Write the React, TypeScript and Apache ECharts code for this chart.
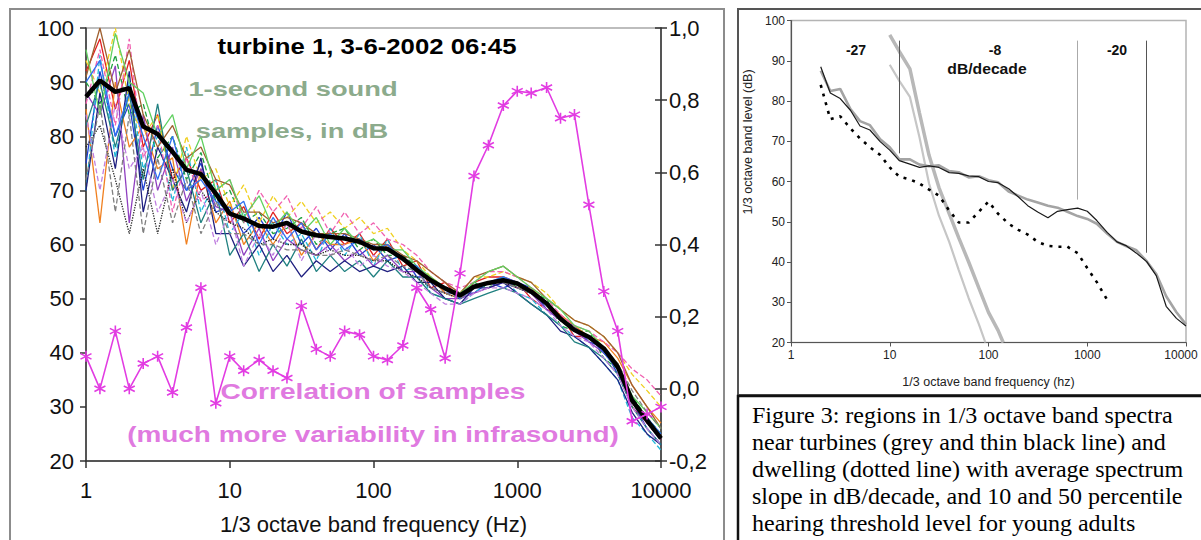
import React, { useEffect, useRef } from "react";
import * as echarts from "echarts";

// ---------- Left chart data ----------
const freqs = [1, 1.25, 1.6, 2, 2.5, 3.15, 4, 5, 6.3, 8, 10, 12.5, 16, 20, 25, 31.5, 40, 50, 63, 80, 100, 125, 160, 200, 250, 315, 400, 500, 630, 800, 1000, 1250, 1600, 2000, 2500, 3150, 4000, 5000, 6300, 8000, 10000];

const meanLevel = [87.3, 90.3, 88.2, 88.9, 81.8, 80.4, 77.1, 73.8, 73.0, 69.4, 65.7, 64.8, 63.4, 63.3, 64.0, 62.4, 61.7, 61.4, 61.1, 60.5, 59.3, 59.2, 57.4, 55.3, 53.4, 51.9, 50.6, 52.2, 52.9, 53.4, 52.8, 51.3, 49.1, 46.3, 44.2, 42.9, 40.8, 37.4, 31.2, 27.5, 24.2];

const correlation = [0.09, 0.0, 0.16, 0.0, 0.07, 0.09, -0.01, 0.17, 0.28, -0.04, 0.09, 0.05, 0.08, 0.05, 0.03, 0.23, 0.11, 0.09, 0.16, 0.15, 0.09, 0.08, 0.12, 0.28, 0.22, 0.085, 0.32, 0.59, 0.675, 0.785, 0.825, 0.82, 0.835, 0.75, 0.76, 0.51, 0.27, 0.16, -0.09, -0.07, -0.05];

const sample01 = [92, 98, 85, 94, 78, 84, 72, 76, 70, 72, 64, 67, 61, 66, 62, 64, 59, 63, 60, 62, 58, 61, 56, 57, 52, 53, 50, 53, 54, 54, 53, 50, 48, 47, 43, 43, 40, 38, 30, 27, 24];
const sample02 = [75, 92, 80, 86, 70, 82, 74, 70, 75, 66, 67, 62, 65, 61, 66, 60, 63, 59, 62, 58, 60, 57, 58, 54, 54, 51, 51, 51, 53, 52, 53, 52, 48, 46, 45, 42, 41, 36, 31, 26, 23];
const sample03 = [90, 86, 95, 84, 86, 76, 80, 72, 77, 68, 70, 64, 66, 62, 63, 65, 60, 62, 63, 59, 61, 58, 58, 56, 53, 52, 50, 53, 52, 54, 52, 51, 50, 45, 44, 44, 39, 37, 32, 28, 25];
const sample04 = [85, 64, 90, 78, 82, 74, 76, 60, 74, 64, 68, 60, 64, 60, 64, 58, 62, 60, 60, 61, 57, 60, 57, 55, 54, 51, 50, 52, 53, 53, 52, 52, 49, 47, 45, 43, 42, 39, 34, 30, 27];
const sample05 = [70, 95, 76, 90, 74, 80, 68, 78, 66, 72, 62, 66, 58, 64, 60, 62, 57, 63, 58, 62, 56, 61, 55, 56, 51, 50, 49, 51, 53, 54, 51, 50, 47, 45, 43, 41, 38, 35, 28, 25, 22];
const sample06 = [88, 84, 93, 64, 84, 70, 78, 68, 74, 67, 66, 58, 63, 57, 61, 59, 58, 60, 57, 59, 56, 58, 55, 55, 52, 50, 50, 51, 52, 53, 52, 51, 48, 46, 44, 42, 40, 37, 31, 27, 24];
const sample07 = [94, 88, 100, 86, 80, 84, 70, 80, 72, 74, 67, 71, 64, 69, 65, 68, 64, 66, 63, 65, 62, 63, 59, 57, 54, 52, 51, 54, 54, 55, 54, 53, 51, 48, 46, 45, 43, 40, 36, 33, 30];
const sample08 = [70, 88, 74, 92, 66, 78, 72, 66, 76, 62, 62, 56, 60, 55, 58, 54, 57, 55, 57, 55, 56, 55, 56, 53, 53, 50, 49, 52, 52, 53, 51, 49, 47, 44, 43, 41, 38, 35, 29, 25, 23];
const sample09 = [86, 96, 82, 98, 76, 82, 66, 76, 68, 70, 72, 64, 70, 66, 69, 63, 67, 62, 66, 62, 64, 61, 60, 58, 55, 53, 52, 53, 55, 55, 54, 52, 50, 47, 45, 44, 42, 40, 37, 35, 32];
const sample10 = [82, 90, 78, 88, 72, 86, 70, 74, 64, 70, 58, 62, 55, 60, 56, 61, 55, 58, 55, 57, 54, 57, 54, 54, 51, 50, 49, 50, 51, 52, 51, 49, 47, 45, 42, 41, 39, 36, 30, 26, 23];
const sample11 = [78, 82, 72, 62, 74, 62, 74, 64, 70, 66, 64, 63, 60, 61, 60, 60, 58, 59, 58, 58, 57, 57, 55, 54, 52, 51, 50, 52, 53, 53, 52, 51, 49, 46, 44, 43, 40, 37, 31, 27, 24];
const sample12 = [91, 100, 88, 96, 84, 78, 82, 76, 78, 72, 71, 66, 66, 64, 65, 64, 62, 62, 62, 61, 60, 60, 58, 57, 55, 53, 51, 54, 55, 56, 54, 53, 50, 48, 46, 45, 43, 40, 34, 30, 26];
const sample13 = [96, 84, 99, 90, 88, 80, 84, 74, 80, 70, 72, 65, 69, 63, 66, 62, 65, 60, 63, 60, 61, 59, 59, 56, 54, 52, 51, 53, 55, 56, 54, 52, 50, 48, 45, 44, 41, 38, 32, 29, 26];
const sample14 = [84, 70, 86, 74, 78, 66, 72, 64, 70, 60, 66, 56, 62, 58, 64, 57, 62, 58, 60, 56, 58, 56, 55, 53, 51, 49, 49, 51, 52, 52, 51, 50, 48, 45, 43, 42, 39, 36, 30, 26, 23];
const sample15 = [90, 94, 80, 88, 80, 72, 80, 70, 72, 68, 66, 68, 60, 65, 61, 64, 59, 62, 59, 61, 59, 60, 57, 56, 53, 52, 50, 52, 53, 54, 53, 51, 49, 46, 44, 43, 40, 37, 31, 28, 25];
const sample16 = [72, 86, 66, 84, 62, 76, 64, 72, 62, 68, 62, 62, 60, 60, 59, 59, 58, 58, 59, 58, 57, 58, 56, 55, 52, 51, 50, 52, 53, 53, 52, 51, 49, 46, 44, 43, 41, 38, 33, 29, 26];

const samples = [sample01, sample02, sample03, sample04, sample05, sample06, sample07, sample08, sample09, sample10, sample11, sample12, sample13, sample14, sample15, sample16];
const sampleColors = ["#e02020", "#1f3fd0", "#20a040", "#f08020", "#20b8d8", "#9040c0", "#f0d020", "#202080", "#f060b0", "#208080", "#222222", "#a06030", "#60d060", "#c080e0", "#3070f0", "#808080"];
const sampleDash = ["solid", "solid", "dashed", "solid", "dashed", "solid", "dashed", "solid", "dashed", "solid", "dotted", "solid", "solid", "dashed", "solid", "dashed"];

const leftTicks = [20, 30, 40, 50, 60, 70, 80, 90, 100];
const rightTicks = [-0.2, 0.0, 0.2, 0.4, 0.6, 0.8, 1.0];

// ---------- Right chart data ----------
const rightFreqs = [2, 2.5, 3.15, 4, 5, 6.3, 8, 10, 12.5, 16, 20, 25, 31.5, 40, 50, 63, 80, 100, 125, 160, 200, 250, 315, 400, 500, 630, 800, 1000, 1250, 1600, 2000, 2500, 3150, 4000, 5000, 6300, 8000, 10000];
const turbineThin = [88.5, 82.0, 80.6, 77.7, 73.8, 72.8, 69.9, 67.8, 65.2, 64.3, 63.5, 63.9, 63.5, 62.2, 62.0, 61.4, 61.2, 60.0, 59.7, 58.2, 56.2, 54.0, 52.4, 51.0, 52.6, 53.0, 53.4, 52.6, 50.3, 47.3, 45.0, 44.0, 42.2, 40.1, 36.6, 29.0, 26.0, 24.1];
const turbineGrey = [87.5, 82.5, 83.0, 78.0, 75.0, 74.0, 70.5, 68.5, 65.5, 65.5, 64.2, 63.8, 64.0, 62.6, 62.3, 61.0, 61.3, 60.3, 59.8, 57.5, 56.5, 55.5, 54.8, 54.0, 53.5, 52.5, 51.4, 50.7, 49.5, 47.0, 45.0, 43.9, 42.9, 40.2, 37.0, 31.5, 27.5, 24.5];
const dwellingFreqs = [2, 2.5, 3.15, 4, 5, 6.3, 8, 10, 12.5, 16, 20, 25, 31.5, 40, 50, 63, 80, 100, 125, 160, 200, 250, 315, 400, 500, 630, 800, 1000, 1250, 1600];
const dwelling = [84, 75.5, 76.2, 73.2, 70.7, 68.5, 66.6, 63.5, 61.2, 60.5, 59.5, 58.0, 56.5, 52.8, 49.8, 49.8, 52.5, 55.0, 52.0, 49.5, 48.0, 46.8, 45.0, 44.0, 43.8, 43.8, 42.2, 38.5, 35.0, 30.5];
const threshold50Freqs = [10, 12.5, 16, 20, 25, 31.5, 40, 50, 63, 80, 100, 125, 141];
const threshold50 = [96.4, 92.3, 88, 77, 66.5, 58.5, 52, 46, 40, 33.5, 27.5, 23, 20];
const threshold10Freqs = [10, 12.5, 16, 20, 25, 31.5, 40, 50, 63, 80, 93];
const threshold10 = [89, 85, 81, 71, 59.5, 51.5, 45, 38, 31, 24.5, 20];
const slopeFreqs = [12.5, 800, 4000];
const slopeBottoms = [67, 55.5, 42.3];
const slopeTop = 95;
const slopeColors = ["#555555", "#aaaaaa", "#555555"];

const captionLines = [
  "Figure 3: regions in 1/3 octave band spectra",
  "near turbines (grey and thin black line) and",
  "dwelling (dotted line) with average spectrum",
  "slope in dB/decade, and 10 and 50 percentile",
  "hearing threshold level for young adults",
];

const SANS = '"Liberation Sans", Arial, sans-serif';
const SERIF = '"Liberation Serif", "Times New Roman", serif';
const MAG = "#e23ce2";

const pairs = (xs: number[], ys: number[]) => ys.map((y, i) => [xs[i], y]);
const commaFmt = (v: number) => (Math.abs(v) < 1e-9 ? 0 : v).toFixed(1).replace(".", ",");
const plainFmt = (v: number) => String(Math.round(v));
const rightXFmt = (v: number) => (Math.round(v) >= 10000 ? "{last|" + Math.round(v) + "}" : String(Math.round(v)));

const STAR = "path://M5,0L5,10M0.67,2.5L9.33,7.5M0.67,7.5L9.33,2.5";

export default function App() {
  const ref = useRef<HTMLDivElement>(null);
  useEffect(() => {
    if (!ref.current) return;
    const chart = echarts.init(ref.current, null, { renderer: "svg" });

    const sampleSeries = samples.map((s, k) => ({
      type: "line",
      xAxisIndex: 0,
      yAxisIndex: 0,
      data: pairs(freqs, s),
      symbol: "none",
      z: 2,
      silent: true,
      lineStyle: { color: sampleColors[k], width: 1.3, type: sampleDash[k] },
    }));

    const txt = (text: string, x: number, y: number, size: number, fill: string, extra: any = {}) => ({
      type: "text", x, y, silent: true, z: 10, ...extra,
      style: {
        text, fontSize: size, fontWeight: "bold", fontFamily: SANS, fill,
        align: "center", verticalAlign: "middle", textAlign: "center", textVerticalAlign: "middle",
      },
    });

    const option: any = {
      animation: false,
      backgroundColor: "#ffffff",
      grid: [
        { left: 86, top: 28, width: 575, height: 433, show: true, borderColor: "#a8a8a8", borderWidth: 1.5, outerBoundsMode: "none", containLabel: false },
        { left: 791, top: 20.5, width: 395, height: 322, show: true, borderColor: "#b4b4b4", borderWidth: 1.5, outerBoundsMode: "none", containLabel: false },
      ],
      xAxis: [
        {
          type: "log", logBase: 10, min: 1, max: 10000, gridIndex: 0,
          name: "1/3 octave band frequency (Hz)", nameLocation: "middle", nameGap: 52,
          nameTextStyle: { fontSize: 22, fontFamily: SANS, color: "#111" },
          axisLine: { show: true, onZero: false, lineStyle: { color: "#333", width: 1.5 } },
          axisTick: { show: true, length: 7, lineStyle: { color: "#333", width: 1.5 } },
          axisLabel: { fontSize: 22, fontFamily: SANS, color: "#111", margin: 18, formatter: plainFmt },
          splitLine: { show: false }, minorTick: { show: false },
        },
        {
          type: "log", logBase: 10, min: 1, max: 10000, gridIndex: 1,
          name: "1/3 octave band frequency (hz)", nameLocation: "middle", nameGap: 33,
          nameTextStyle: { fontSize: 12.5, fontFamily: SANS, color: "#222" },
          axisLine: { show: true, onZero: false, lineStyle: { color: "#555", width: 1.2 } },
          axisTick: { show: true, length: 4, lineStyle: { color: "#555", width: 1 } },
          axisLabel: {
            fontSize: 12, fontFamily: SANS, color: "#222", margin: 6, formatter: rightXFmt,
            rich: { last: { fontSize: 12, fontFamily: SANS, color: "#222", padding: [0, 10, 0, 0] } },
          },
          splitLine: { show: false }, minorTick: { show: false },
        },
      ],
      yAxis: [
        {
          type: "value", gridIndex: 0, min: leftTicks[0], max: leftTicks[leftTicks.length - 1], interval: 10, position: "left",
          axisLine: { show: true, onZero: false, lineStyle: { color: "#333", width: 1.5 } },
          axisTick: { show: true, length: 6, lineStyle: { color: "#333", width: 1.5 } },
          axisLabel: { fontSize: 22, fontFamily: SANS, color: "#111", margin: 12 },
          splitLine: { show: false },
        },
        {
          type: "value", gridIndex: 0, min: rightTicks[0], max: rightTicks[rightTicks.length - 1], interval: 0.2, position: "right",
          axisLine: { show: true, onZero: false, lineStyle: { color: "#333", width: 1.5 } },
          axisTick: { show: true, length: 6, lineStyle: { color: "#333", width: 1.5 } },
          axisLabel: { fontSize: 22, fontFamily: SANS, color: "#111", margin: 8, formatter: commaFmt },
          splitLine: { show: false },
        },
        {
          type: "value", gridIndex: 0, min: rightTicks[0], max: rightTicks[rightTicks.length - 1], interval: 0.2, position: "right",
          axisLine: { show: false, onZero: false },
          axisTick: { show: true, inside: true, length: 6, lineStyle: { color: "#333", width: 1.5 } },
          axisLabel: { show: false },
          splitLine: { show: false },
        },
        {
          type: "value", gridIndex: 1, min: 20, max: 100, interval: 10, position: "left",
          axisLine: { show: true, onZero: false, lineStyle: { color: "#555", width: 1.2 } },
          axisTick: { show: true, length: 4, lineStyle: { color: "#555", width: 1 } },
          axisLabel: { fontSize: 12, fontFamily: SANS, color: "#222", margin: 6 },
          splitLine: { show: false },
        },
      ],
      series: [
        ...sampleSeries,
        {
          type: "line", xAxisIndex: 0, yAxisIndex: 0, data: pairs(freqs, meanLevel), symbol: "none", z: 5, silent: true,
          lineStyle: { color: "#000", width: 4.5 },
        },
        {
          type: "line", xAxisIndex: 0, yAxisIndex: 1, data: pairs(freqs, correlation), z: 6, silent: true,
          symbol: STAR, symbolSize: 11, showSymbol: true,
          itemStyle: { color: MAG, borderColor: MAG, borderWidth: 1.6 },
          lineStyle: { color: MAG, width: 1.6 },
        },
        // right chart
        {
          type: "line", xAxisIndex: 1, yAxisIndex: 3, data: pairs(threshold10Freqs, threshold10), symbol: "none", silent: true, z: 2,
          lineStyle: { color: "#c6c6c6", width: 2.2 },
        },
        {
          type: "line", xAxisIndex: 1, yAxisIndex: 3, data: pairs(threshold50Freqs, threshold50), symbol: "none", silent: true, z: 2,
          lineStyle: { color: "#b8b8b8", width: 3.5 },
        },
        {
          type: "line", xAxisIndex: 1, yAxisIndex: 3, data: pairs(rightFreqs, turbineGrey), symbol: "none", silent: true, z: 3,
          lineStyle: { color: "#a4a4a4", width: 2.6 },
        },
        {
          type: "line", xAxisIndex: 1, yAxisIndex: 3, data: pairs(dwellingFreqs, dwelling), symbol: "none", silent: true, z: 3,
          lineStyle: { color: "#000", width: 2.6, type: [3, 6] },
        },
        {
          type: "line", xAxisIndex: 1, yAxisIndex: 3, data: pairs(rightFreqs, turbineThin), symbol: "none", silent: true, z: 4,
          lineStyle: { color: "#1a1a1a", width: 1.2 },
          markLine: {
            silent: true, symbol: "none", label: { show: false },
            lineStyle: { type: "solid", width: 1 },
            data: slopeFreqs.map((f, i) => [
              { coord: [f, slopeTop], lineStyle: { color: slopeColors[i], width: 1, type: "solid" } },
              { coord: [f, slopeBottoms[i]] },
            ]),
          },
        },
      ],
      graphic: [
        { type: "rect", shape: { x: 10, y: 9, width: 714, height: 545 }, style: { fill: "none", stroke: "#8c8c8c", lineWidth: 2 }, silent: true },
        { type: "rect", shape: { x: 738, y: 9, width: 480, height: 386 }, style: { fill: "none", stroke: "#555", lineWidth: 2 }, silent: true },
        { type: "rect", shape: { x: 738, y: 396, width: 480, height: 160 }, style: { fill: "none", stroke: "#111", lineWidth: 2.5 }, silent: true },
        txt("turbine 1, 3-6-2002 06:45", 367, 46, 22, "#000", { scaleX: 1.17 }),
        txt("1-second sound", 293, 89, 21, "#8cab8c", { scaleX: 1.3 }),
        txt("samples, in dB", 292, 131, 21, "#8cab8c", { scaleX: 1.3 }),
        txt("Correlation of samples", 373, 391, 22, "#e07ae0", { scaleX: 1.28 }),
        txt("(much more variability in infrasound)", 373, 434, 22, "#e07ae0", { scaleX: 1.27 }),
        {
          type: "text", x: 748, y: 142, rotation: Math.PI / 2, silent: true,
          style: { text: "1/3 octave band level (dB)", fontSize: 12.5, fontFamily: SANS, fill: "#222", align: "center", verticalAlign: "middle", textAlign: "center", textVerticalAlign: "middle" },
        },
        txt("-27", 856, 50, 14, "#111"),
        txt("-8", 995, 50, 14, "#111"),
        txt("dB/decade", 987, 69, 14, "#111", { scaleX: 1.12 }),
        txt("-20", 1117, 50, 14, "#111"),
        ...captionLines.map((t, i) => ({
          type: "text", x: 752, y: 415 + i * 27, silent: true,
          style: { text: t, fontSize: 24, fontFamily: SERIF, fill: "#000", align: "left", verticalAlign: "middle", textAlign: "left", textVerticalAlign: "middle" },
        })),
      ],
    };
    chart.setOption(option);
    return () => chart.dispose();
  }, []);
  return <div ref={ref} style={{ position: "fixed", left: 0, top: 0, width: 1201, height: 540, background: "#fff" }} />;
}
